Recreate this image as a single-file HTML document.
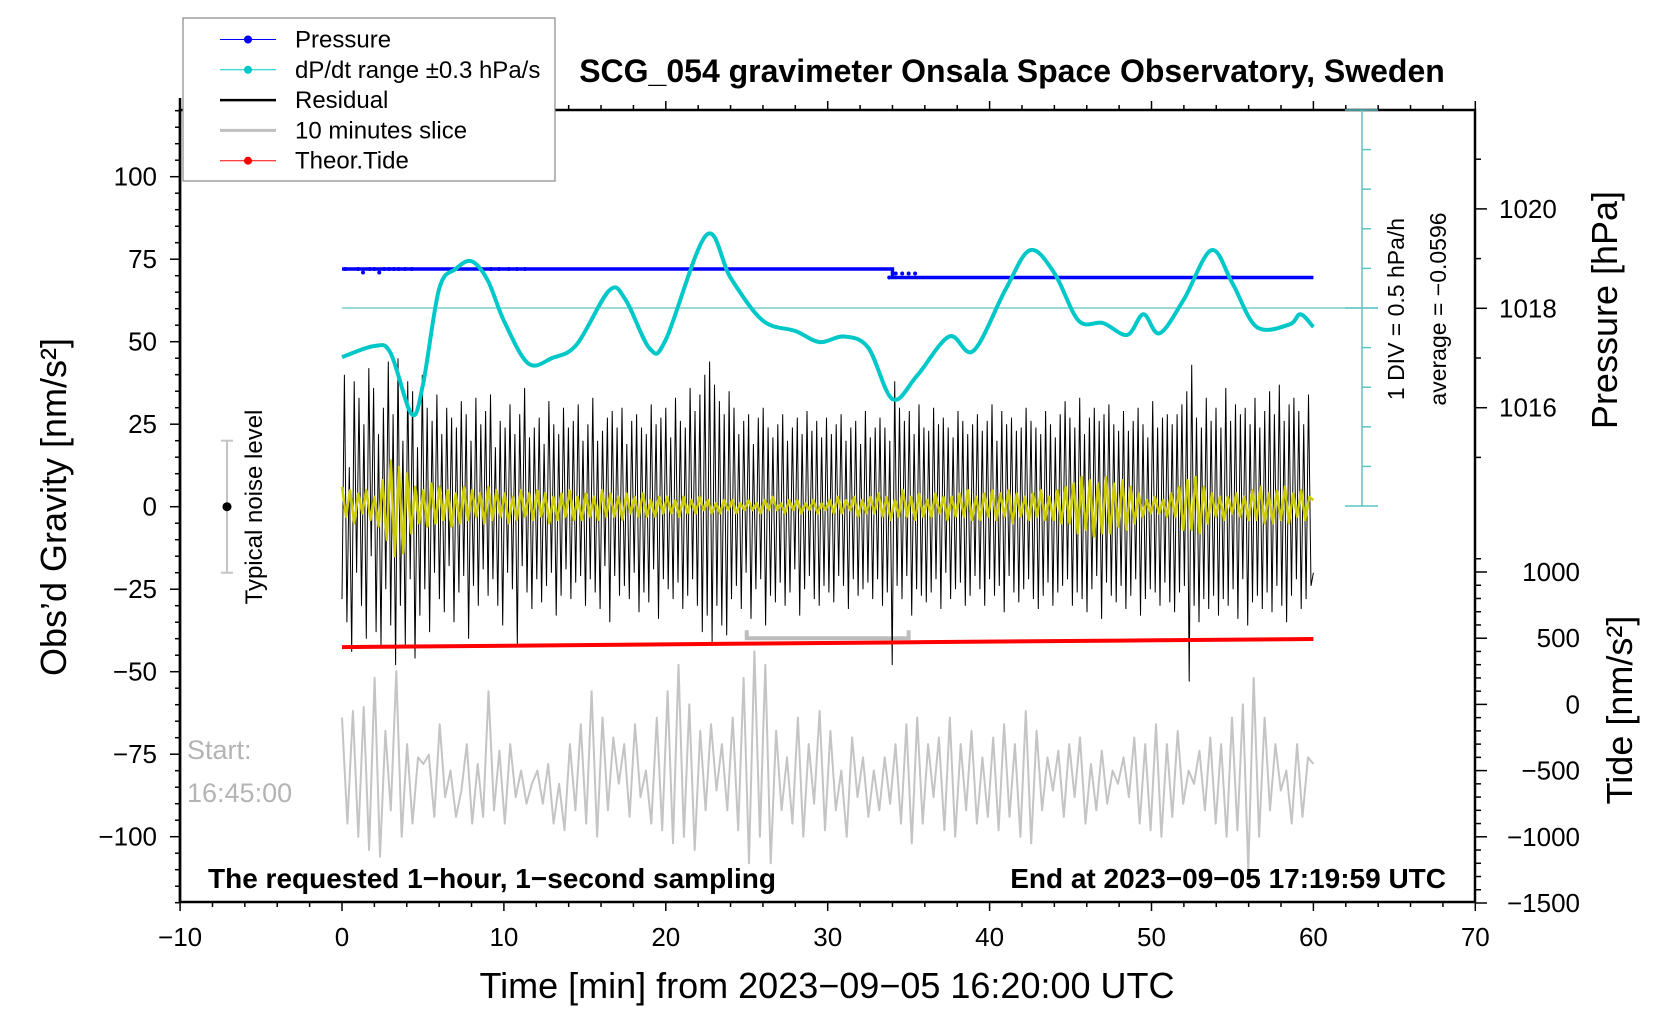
<!DOCTYPE html>
<html><head><meta charset="utf-8"><style>
html,body{margin:0;padding:0;background:#fff;}
svg{display:block;font-family:"Liberation Sans",Arial,sans-serif;}
</style></head><body>
<svg id="chart" width="1676" height="1020" viewBox="0 0 1676 1020">
<g id="frame"></g>
<g id="data"></g>
<g id="labels"></g>
</svg>
<script>
// ---- data ----
const xTicks = [-10,0,10,20,30,40,50,60,70];
const gTicks = [-100,-75,-50,-25,0,25,50,75,100];
const pTicks = [1016,1018,1020];
const tTicks = [-1500,-1000,-500,0,500,1000];
const dpdtTimes = [0,2,3,4.3,5,6,7,8,9,10,11.5,13,14.5,16.5,17.5,19,20,22.5,24,26,28,29.5,31,32.5,34,35.5,37.5,39,41,42.5,44,45.5,47,48.5,49.5,50.5,52,53.7,55,56.5,58.5,59.2,60];
const dpdtValues = [-0.62,-0.48,-0.57,-1.34,-0.97,0.24,0.49,0.59,0.35,-0.16,-0.70,-0.63,-0.46,0.22,0.11,-0.51,-0.40,0.92,0.38,-0.16,-0.29,-0.43,-0.36,-0.50,-1.15,-0.86,-0.36,-0.54,0.24,0.73,0.44,-0.16,-0.19,-0.34,-0.08,-0.32,0.11,0.73,0.31,-0.24,-0.21,-0.08,-0.24];
const pressureTimes = [0,34,34,60];
const pressureValues = [1018.79,1018.79,1018.62,1018.62];
const pressureDotTimes = [0.2,1.0,1.3,1.7,2.0,2.3,2.6,2.9,3.2,3.5,3.9,4.3,8.6,9.2,9.7,10.3,10.8,11.3,33.8,34.2,34.6,35.0,35.4,55.0];
const pressureDotValues = [1018.79,1018.79,1018.72,1018.79,1018.79,1018.72,1018.79,1018.79,1018.79,1018.79,1018.79,1018.79,1018.79,1018.79,1018.79,1018.79,1018.79,1018.79,1018.62,1018.70,1018.70,1018.70,1018.70,1018.62];
const tideTimes = [0,12,24,36,48,60];
const tideValues = [433,445,458,470,482,494];
const residual = [
-28,40,-35,12,-44,38,-20,33,-30,25,-40,42,-15,36,-38,22,-42,30,-25,44,
-36,28,-48,45,-30,20,-42,38,-22,35,-46,18,-33,40,-25,30,-38,26,-20,34,
-28,22,-32,30,-18,27,-35,24,-26,32,-21,28,-40,20,-24,33,-30,25,-19,29,
-27,34,-22,18,-30,26,-36,24,-20,31,-25,22,-42,28,-18,36,-26,21,-31,24,
-22,27,-29,19,-24,32,-20,25,-33,22,-27,30,-19,24,-28,26,-23,31,-21,20,
-30,25,-22,33,-26,20,-31,23,-18,27,-35,29,-21,24,-27,30,-24,19,-28,26,
-20,28,-32,24,-26,22,-29,31,-19,25,-34,27,-22,30,-25,21,-28,33,-23,26,
-31,24,-27,36,-22,29,-30,34,-38,40,-33,44,-41,37,-30,32,-36,28,-39,35,
-28,30,-24,22,-31,26,-20,28,-34,19,-25,27,-22,30,-36,24,-27,21,-29,25,
-23,28,-30,20,-26,24,-19,27,-33,22,-25,29,-21,23,-28,26,-30,21,-24,27,
-26,22,-29,25,-21,28,-24,20,-31,24,-22,26,-27,19,-25,29,-23,21,-28,24,
-22,27,-30,24,-26,20,-48,38,-24,30,-28,26,-21,29,-33,22,-25,31,-27,24,
-29,23,-26,30,-22,25,-31,27,-20,24,-28,21,-25,29,-23,26,-30,22,-27,25,
-21,28,-25,23,-30,26,-22,31,-27,20,-24,29,-32,25,-21,27,-26,23,-29,24,
-25,30,-22,26,-28,24,-31,22,-27,29,-23,25,-30,21,-26,28,-24,32,-22,27,
-30,24,-26,33,-28,22,-32,27,-25,30,-21,26,-34,28,-23,31,-27,25,-29,23,
-24,29,-31,23,-27,26,-22,30,-33,25,-28,21,-25,32,-26,24,-30,27,-23,28,
-29,25,-32,28,-26,31,-24,35,-53,43,-30,27,-35,24,-28,33,-31,26,-27,30,
-33,24,-28,36,-30,26,-25,31,-34,28,-22,30,-36,25,-29,33,-27,24,-31,29,
-26,35,-32,28,-24,37,-30,26,-35,31,-27,33,-22,29,-31,25,-28,34,-24,-20];
const filtered = [
6,-3,5,-5,4,-2,5,-4,3,-6,8,-10,14,-15,12,-14,10,-8,6,-5,
5,-6,7,-5,6,-4,5,-6,4,-5,6,-4,5,-3,4,-5,6,-4,5,-3,
4,-5,3,-4,5,-3,4,-4,5,-3,4,-5,3,-4,4,-3,5,-4,3,-4,
4,-3,3,-4,5,-3,4,-3,3,-4,4,-2,3,-3,4,-3,2,-3,3,-2,
3,-2,2,-3,3,-2,2,-2,3,-1,2,-2,1,-2,2,-1,2,-2,1,-1,
2,-1,1,-2,2,-1,3,-1,1,-2,2,-1,2,-2,1,-1,2,-2,1,-1,
2,-2,3,-2,2,-1,3,-3,2,-2,3,-2,4,-3,3,-4,2,-3,5,-3,
3,-4,4,-3,2,-3,4,-2,3,-4,3,-3,4,-3,5,-4,3,-4,4,-3,
5,-4,4,-3,5,-5,4,-3,3,-4,4,-3,5,-4,3,-4,5,-5,6,-5,
7,-8,9,-7,8,-9,7,-8,9,-8,7,-6,8,-7,6,-5,4,-3,2,-2,
3,-2,2,-3,4,-3,6,-7,8,-7,9,-8,6,-5,4,-3,3,-4,3,-2,
4,-3,3,-4,5,-4,6,-5,4,-5,5,-4,6,-5,4,-3,5,-4,3,2];
const slice = [
-100,-900,-50,-1000,-20,-1100,200,-1150,-200,-800,250,-1000,-300,-900,-400,-450,-380,-850,-150,-700,
-500,-850,-650,-300,-900,-450,-850,100,-800,-350,-900,-300,-700,-500,-750,-600,-500,-750,-450,-900,
-600,-950,-300,-800,-150,-900,100,-1000,-100,-800,-250,-600,-300,-850,-150,-700,-500,-900,-100,-950,
100,-1050,300,-1000,0,-1100,-200,-800,-150,-650,-300,-800,-100,-950,200,-1200,400,-1000,300,-1200,
-200,-800,-400,-900,-100,-1000,-300,-750,-50,-950,-200,-800,-500,-1000,-250,-700,-400,-850,-500,-800,
-400,-750,-300,-900,-150,-1050,-100,-900,-300,-700,-250,-950,-100,-1000,-300,-800,-200,-900,-400,-850,
-250,-950,-150,-850,-300,-1000,-50,-1050,-200,-800,-400,-650,-350,-850,-300,-700,-250,-900,-450,-800,
-350,-750,-500,-600,-400,-700,-250,-900,-300,-950,-150,-1000,-300,-850,-200,-750,-500,-600,-350,-800,
-250,-900,-300,-1000,-100,-950,0,-1250,200,-1000,-100,-800,-300,-650,-500,-900,-300,-850,-400,-450];
const sliceRange = [25,35];

// ---- scales ----
const xs = t => 342 + t*16.19;
const yg = v => 506.7 - 3.3*v;
const yp = p => 308.3 - (p-1018)*49.7;
const yt = v => 704.4 - 0.1324*v;
const yd = v => 308 - 79.2*v;
const NS = 'http://www.w3.org/2000/svg';
function mk(parent, tag, attrs, text){
  const e = document.createElementNS(NS, tag);
  for (const k in attrs) e.setAttribute(k, attrs[k]);
  if (text !== undefined) e.textContent = text;
  parent.appendChild(e); return e;
}
const F = document.getElementById('frame'), D = document.getElementById('data'), L = document.getElementById('labels');
const L0=180, R0=1475, T0=110, B0=902;

let e;
e = mk(F,'rect',{x:L0,y:T0,width:R0-L0,height:B0-T0,fill:'none',stroke:'#000','stroke-width':2.5});


for (let t=-10;t<=70;t+=2){
  const major = t%10===0;
  mk(F,'line',{x1:xs(t),x2:xs(t),y1:B0,y2:B0+(major?9:5),stroke:'#000','stroke-width':1.5});
  mk(F,'line',{x1:xs(t),x2:xs(t),y1:T0,y2:T0-(major?9:5),stroke:'#000','stroke-width':1.5});
}
xTicks.forEach(t=>{
  e = mk(L,'text',{x:xs(t),y:946,'font-size':26,'text-anchor':'middle'},String(t).replace('-','\u2212'));
  
  
});
for (let v=-120;v<=120;v+=5){
  const major = v%25===0;
  mk(F,'line',{x1:L0,x2:L0-(major?10:5),y1:yg(v),y2:yg(v),stroke:'#000','stroke-width':1.5});
}
mk(F,'line',{x1:L0,x2:L0,y1:98,y2:B0,stroke:'#000','stroke-width':2.5});
gTicks.forEach(v=>{
  e = mk(L,'text',{x:157,y:yg(v)+9,'font-size':26,'text-anchor':'end'},String(v).replace('-','\u2212'));
  
  
});
for (let p=1015;p<=1021;p++){
  mk(F,'line',{x1:R0,x2:R0+(p%2===0?12:6),y1:yp(p),y2:yp(p),stroke:'#000','stroke-width':1.5});
}
pTicks.forEach(p=>{
  e = mk(L,'text',{x:1499,y:yp(p)+9,'font-size':26},String(p));
  
  
});
for (let v=-1500;v<=1100;v+=100){
  const major = v%500===0;
  mk(F,'line',{x1:R0,x2:R0+(major?12:6),y1:yt(v),y2:yt(v),stroke:'#000','stroke-width':1.5});
}
tTicks.forEach(v=>{
  e = mk(L,'text',{x:1580,y:yt(v)+9,'font-size':26,'text-anchor':'end'},String(v).replace('-','\u2212'));
  
  
});

const sbX=1362;
mk(F,'line',{x1:sbX,x2:sbX,y1:yd(2.5),y2:yd(-2.5),stroke:'#5cc4c4','stroke-width':1.5});
for (let i=-5;i<=5;i++){
  const v=i*0.5, big=(i===-5||i===5||i===0);
  mk(F,'line',{x1:big?sbX-17:sbX,x2:big?sbX+16:sbX+9,y1:yd(v),y2:yd(v),stroke:'#5cc4c4','stroke-width':1.5});
}
e = mk(D,'line',{x1:xs(0),x2:sbX+16,y1:yd(0),y2:yd(0),stroke:'#5cc4c4','stroke-width':1.3});



const slicePts = slice.map((v,i)=>xs(i*60/(slice.length-1)).toFixed(1)+','+yt(v).toFixed(1)).join(' ');
e = mk(D,'polyline',{points:slicePts,fill:'none',stroke:'#c4c4c4','stroke-width':2,'stroke-linejoin':'round'});


const by = yt(500);
e = mk(D,'polyline',{points:`${xs(sliceRange[0])},${by-8} ${xs(sliceRange[0])},${by} ${xs(sliceRange[1])},${by} ${xs(sliceRange[1])},${by-8}`,fill:'none',stroke:'#bdbdbd','stroke-width':4});



const resPts = residual.map((v,i)=>xs(i*60/(residual.length-1)).toFixed(1)+','+yg(v).toFixed(1)).join(' ');
e = mk(D,'polyline',{points:resPts,fill:'none',stroke:'#000','stroke-width':1});


const filPts = filtered.map((v,i)=>xs(i*60/(filtered.length-1)).toFixed(1)+','+yg(v).toFixed(1)).join(' ');
e = mk(D,'polyline',{points:filPts,fill:'none',stroke:'#cccc00','stroke-width':2.5,'stroke-linejoin':'round'});



const tidePts = tideTimes.map((t,i)=>xs(t)+','+yt(tideValues[i])).join(' ');
e = mk(D,'polyline',{points:tidePts,fill:'none',stroke:'#ff0000','stroke-width':4});



const presPts = pressureTimes.map((t,i)=>xs(t)+','+yp(pressureValues[i])).join(' ');
e = mk(D,'polyline',{points:presPts,fill:'none',stroke:'#0000ff','stroke-width':3.5});


pressureDotTimes.forEach((t,i)=>{
  const c = mk(D,'circle',{cx:xs(t),cy:yp(pressureDotValues[i]),r:2,fill:'#0000ff'});
  
  
});

function smooth(px,py){
  let d='M'+px[0]+','+py[0];
  for(let i=0;i<px.length-1;i++){
    const x0=px[Math.max(0,i-1)],y0=py[Math.max(0,i-1)],x1=px[i],y1=py[i],x2=px[i+1],y2=py[i+1],x3=px[Math.min(px.length-1,i+2)],y3=py[Math.min(px.length-1,i+2)];
    d+=` C${(x1+(x2-x0)/6).toFixed(1)},${(y1+(y2-y0)/6).toFixed(1)} ${(x2-(x3-x1)/6).toFixed(1)},${(y2-(y3-y1)/6).toFixed(1)} ${x2.toFixed(1)},${y2.toFixed(1)}`;
  }
  return d;
}
e = mk(D,'path',{d:smooth(dpdtTimes.map(xs),dpdtValues.map(yd)),fill:'none',stroke:'#00c8c8','stroke-width':4});



const nx=227;
mk(D,'line',{x1:nx,x2:nx,y1:yg(20),y2:yg(-20),stroke:'#c4c4c4','stroke-width':2});
mk(D,'line',{x1:nx-6,x2:nx+6,y1:yg(20),y2:yg(20),stroke:'#c4c4c4','stroke-width':2});
mk(D,'line',{x1:nx-6,x2:nx+6,y1:yg(-20),y2:yg(-20),stroke:'#c4c4c4','stroke-width':2});
e = mk(D,'circle',{cx:nx,cy:yg(0),r:4.5,fill:'#000'});


</script>

<script>
const Lb = document.getElementById('labels');
function tx(attrs, text, name){
  const t = document.createElementNS('http://www.w3.org/2000/svg','text');
  for (const k in attrs) t.setAttribute(k, attrs[k]);
  t.textContent = text;
  
  
  Lb.appendChild(t); return t;
}
tx({x:1012,y:82,'font-size':32,'font-weight':'bold','text-anchor':'middle'},'SCG_054 gravimeter Onsala Space Observatory, Sweden','chart-title');
tx({x:827,y:998,'font-size':36,'text-anchor':'middle'},'Time [min] from 2023\u221209\u221205 16:20:00 UTC','x-axis-title');
tx({x:66,y:507,'font-size':36,'text-anchor':'middle',transform:'rotate(-90 66 507)'},'Obs\u2019d Gravity [nm/s\u00B2]','gravity-axis-title');
tx({x:1617,y:310,'font-size':36,'text-anchor':'middle',transform:'rotate(-90 1617 310)'},'Pressure [hPa]','pressure-axis-title');
tx({x:1632,y:710,'font-size':36,'text-anchor':'middle',transform:'rotate(-90 1632 710)'},'Tide [nm/s\u00B2]','tide-axis-title');
tx({x:262,y:507,'font-size':24,'text-anchor':'middle',transform:'rotate(-90 262 507)'},'Typical noise level','noise-level-label');
tx({x:1404,y:309,'font-size':23,'text-anchor':'middle',transform:'rotate(-90 1404 309)'},'1 DIV = 0.5 hPa/h','dpdt-scale-label');
tx({x:1446,y:309,'font-size':23,'text-anchor':'middle',transform:'rotate(-90 1446 309)'},'average = \u22120.0596','dpdt-average-label');
tx({x:208,y:888,'font-size':28,'font-weight':'bold'},'The requested 1\u2212hour, 1\u2212second sampling','sampling-note');
tx({x:1446,y:888,'font-size':28,'font-weight':'bold','text-anchor':'end'},'End at 2023\u221209\u221205 17:19:59 UTC','end-time-note');
tx({x:187,y:759,'font-size':27,fill:'#b4b4b4'},'Start:','start-label');
tx({x:187,y:802,'font-size':27,fill:'#b4b4b4'},'16:45:00','start-time');

const S = document.getElementById('chart');
const NS2='http://www.w3.org/2000/svg';
const lg = document.createElementNS(NS2,'g');


S.appendChild(lg);
const box = document.createElementNS(NS2,'rect');
box.setAttribute('x',183);box.setAttribute('y',18);box.setAttribute('width',372);box.setAttribute('height',163);
box.setAttribute('fill','#fff');box.setAttribute('stroke','#888');box.setAttribute('stroke-width',1.2);
lg.appendChild(box);
const entries = [
 ['Pressure','#0000ff',1,true,'legend-pressure'],
 ['dP/dt range \u00B10.3 hPa/s','#00c8c8',1,true,'legend-dpdt'],
 ['Residual','#000',2.5,false,'legend-residual'],
 ['10 minutes slice','#c0c0c0',3,false,'legend-slice'],
 ['Theor.Tide','#ff0000',1,true,'legend-tide']];
entries.forEach((en,i)=>{
  const y = 39.5 + i*30.3;
  const g = document.createElementNS(NS2,'g');
  
  
  lg.appendChild(g);
  const ln = document.createElementNS(NS2,'line');
  ln.setAttribute('x1',220);ln.setAttribute('x2',276);ln.setAttribute('y1',y);ln.setAttribute('y2',y);
  ln.setAttribute('stroke',en[1]);ln.setAttribute('stroke-width',en[2]);
  g.appendChild(ln);
  if (en[3]){
    const c = document.createElementNS(NS2,'circle');
    c.setAttribute('cx',248);c.setAttribute('cy',y);c.setAttribute('r',4);c.setAttribute('fill',en[1]);
    g.appendChild(c);
  }
  const t = document.createElementNS(NS2,'text');
  t.setAttribute('x',295);t.setAttribute('y',y+8);t.setAttribute('font-size',24);
  t.textContent = en[0];
  g.appendChild(t);
});
</script>
</body></html>
